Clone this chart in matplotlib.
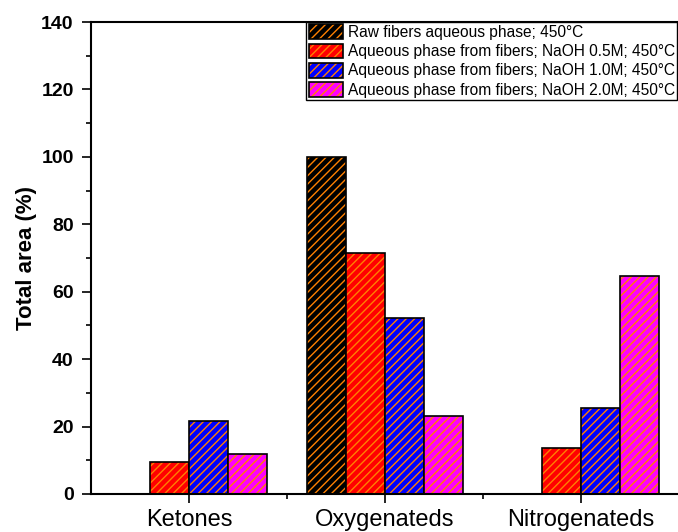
import numpy as np
import matplotlib
matplotlib.use('Agg')
import matplotlib.pyplot as plt
from matplotlib.legend_handler import HandlerTuple

plt.rcParams['font.family'] = ['Liberation Sans', 'DejaVu Sans']
plt.rcParams['hatch.linewidth'] = 1.0

categories = ['Ketones', 'Oxygenateds', 'Nitrogenateds']
labels = ['Raw fibers aqueous phase; 450°C',
          'Aqueous phase from fibers; NaOH 0.5M; 450°C',
          'Aqueous phase from fibers; NaOH 1.0M; 450°C',
          'Aqueous phase from fibers; NaOH 2.0M; 450°C']
raw = [0, 100.0, 0]
naoh05 = [9.4, 71.5, 13.6]
naoh10 = [21.6, 52.2, 25.6]
naoh20 = [11.9, 23.1, 64.7]
series = [raw, naoh05, naoh10, naoh20]
colors = ['black', '#ff0000', '#0000ff', '#ff00ff']
hatch_col = '#ff8000'

fig = plt.figure(figsize=(6.78, 5.32), dpi=100)
ax = fig.add_axes([91/678, 1-494/532, 588/678, 472/532])

x = np.arange(len(categories))
w = 0.2
handles = []
for i, vals in enumerate(series):
    pos = x + (i - 1.5) * w
    b1 = ax.bar(pos, vals, w, color=colors[i], edgecolor=hatch_col, hatch='////', linewidth=0)
    b2 = ax.bar(pos, vals, w, fill=False, edgecolor='black', linewidth=1.2)
    handles.append((b1[0], b2[0]))

ax.set_xlim(-0.5, 2.5)
ax.set_ylim(0, 140)
ax.set_xticks(x)
ax.set_xticklabels(categories, fontsize=17)
ax.set_xticks([0.5, 1.5], minor=True)
ax.set_yticks(range(0, 141, 20))
ax.set_yticks(range(10, 140, 20), minor=True)
for t in ax.get_yticklabels():
    t.set_fontsize(14)
    t.set_fontweight('bold')
ax.tick_params(which='major', direction='out', length=6.5, width=1.2, pad=6)
ax.tick_params(which='minor', direction='out', length=3.5, width=1.2)
ax.tick_params(axis='x', which='major', pad=4)
ax.set_ylabel('Total area (%)', fontsize=16, fontweight='bold', labelpad=3)
ax.spines['right'].set_visible(False)
for s in ['left', 'bottom', 'top']:
    ax.spines[s].set_linewidth(1.5)

leg = ax.legend(handles, labels, handler_map={tuple: HandlerTuple(ndivide=1, pad=0)},
                loc='upper right', bbox_to_anchor=(677/678, 1-22/532),
                bbox_transform=fig.transFigure, borderaxespad=0,
                fontsize=11.2, fancybox=False, edgecolor='black', framealpha=1,
                borderpad=0.15, labelspacing=0.22, handlelength=2.2,
                handleheight=1.1, handletextpad=0.3)
leg.get_frame().set_linewidth(1.0)

fig.savefig('out.png', dpi=100)
